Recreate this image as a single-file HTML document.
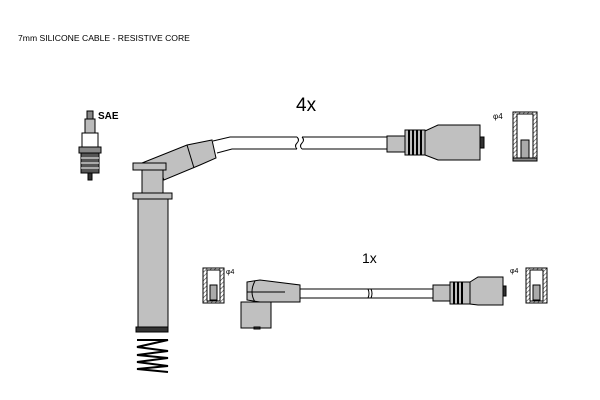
<!DOCTYPE html>
<html><head><style>
html,body{margin:0;padding:0;background:#fff;width:600px;height:400px;overflow:hidden}
svg{display:block}
</style></head><body>
<svg width="600" height="400" viewBox="0 0 600 400" xmlns="http://www.w3.org/2000/svg">
<defs>
<pattern id="h" width="3" height="3" patternUnits="userSpaceOnUse" patternTransform="rotate(45)"><rect width="3" height="3" fill="#fff"/><line x1="0" y1="0" x2="0" y2="3" stroke="#444" stroke-width="1.2"/></pattern>
</defs>
<g font-family="Liberation Sans, sans-serif">
<text x="18" y="41" font-size="8.6" fill="#000">7mm SILICONE CABLE - RESISTIVE CORE</text>
<text x="296" y="111" font-size="19" fill="#000">4x</text>
<text x="362" y="263" font-size="14" fill="#000">1x</text>
<text x="98" y="119" font-size="10" font-weight="bold" fill="#000">SAE</text>
<text x="493" y="119" font-size="8" fill="#000">φ4</text>
<text x="226" y="274" font-size="7" fill="#000">φ4</text>
<text x="510" y="273" font-size="7" fill="#000">φ4</text>
</g>
<g stroke="#000" stroke-width="1" fill="#c0c0c0">
<rect x="87" y="111" width="6" height="8" fill="#888"/>
<rect x="85" y="119" width="10" height="14" fill="#bbb"/>
<rect x="82" y="133" width="16" height="14" fill="#fff"/>
<rect x="79" y="147" width="22" height="6" fill="#888"/>
<rect x="81" y="153" width="18" height="20" fill="#555"/>
<line x1="81" y1="158" x2="99" y2="158" stroke="#fff"/>
<line x1="81" y1="163" x2="99" y2="163" stroke="#fff"/>
<line x1="81" y1="168" x2="99" y2="168" stroke="#fff"/>
<rect x="88" y="173" width="4" height="7" fill="#333"/>
<path d="M213 141 L230 137 L297 137 M302 137 L390 137" fill="none"/>
<path d="M217 153 L232 149 L297 149 M302 149 L390 149" fill="none"/>
<path d="M297 137 q3 3 0 6 q-3 3 0 6 M302 137 q3 3 0 6 q-3 3 0 6" fill="none"/>
<path d="M142 163 L187 145 L212 140 L216 158 L200 165 L164 180 L160 170 Z"/>
<line x1="187" y1="145" x2="194" y2="168"/>
<rect x="133" y="163" width="33" height="7"/>
<rect x="142" y="170" width="21" height="23"/>
<rect x="133" y="193" width="39" height="6"/>
<rect x="138" y="199" width="30" height="131"/>
<rect x="136" y="327" width="32" height="5" fill="#333"/>
<path d="M137 340 L168 340 L137 347 L168 351 L137 355 L168 358 L137 362 L168 366 L137 369 L168 372" fill="none" stroke-width="2"/>
<rect x="387" y="136" width="18" height="16"/>
<rect x="405" y="130" width="20" height="25"/>
<line x1="409" y1="130" x2="409" y2="155" stroke-width="2"/>
<line x1="413" y1="130" x2="413" y2="155" stroke-width="2"/>
<line x1="417" y1="130" x2="417" y2="155" stroke-width="2"/>
<line x1="421" y1="130" x2="421" y2="155" stroke-width="2"/>
<path d="M425 131 L438 125 L480 125 L480 160 L438 160 L425 155 Z"/>
<rect x="480" y="137" width="4" height="11" fill="#333"/>
<rect x="513" y="112" width="24" height="48" fill="url(#h)"/>
<rect x="517" y="114" width="16" height="44" fill="#fff"/>
<rect x="521" y="140" width="8" height="18" fill="#aaa"/>
<rect x="513" y="158" width="24" height="3" fill="#888"/>
<line x1="300" y1="289" x2="433" y2="289"/>
<line x1="300" y1="298" x2="433" y2="298"/>
<path d="M368 289 q2 4.5 0 9 M371 289 q2 4.5 0 9" fill="none"/>
<path d="M247 282 L260 280 L300 285 L300 302 L260 302 L247 300 Z"/>
<line x1="247" y1="292" x2="285" y2="292"/>
<path d="M255 281 q-6 11 0 21" fill="none"/>
<rect x="241" y="302" width="30" height="26"/>
<rect x="254" y="327" width="6" height="2" fill="#333"/>
<rect x="433" y="285" width="17" height="16"/>
<rect x="450" y="282" width="20" height="22"/>
<line x1="454" y1="282" x2="454" y2="304" stroke-width="2"/>
<line x1="458" y1="282" x2="458" y2="304" stroke-width="2"/>
<line x1="462" y1="282" x2="462" y2="304" stroke-width="2"/>
<path d="M470 282 L478 277 L503 277 L503 305 L478 305 L470 304 Z"/>
<rect x="503" y="286" width="3" height="10" fill="#333"/>
<rect x="203" y="268" width="21" height="35" fill="url(#h)"/>
<rect x="207" y="270" width="13" height="31" fill="#fff"/>
<rect x="210" y="285" width="7" height="15" fill="#aaa"/>
<rect x="526" y="268" width="21" height="35" fill="url(#h)"/>
<rect x="530" y="270" width="13" height="31" fill="#fff"/>
<rect x="533" y="285" width="7" height="15" fill="#aaa"/>
</g>
</svg>
</body></html>
